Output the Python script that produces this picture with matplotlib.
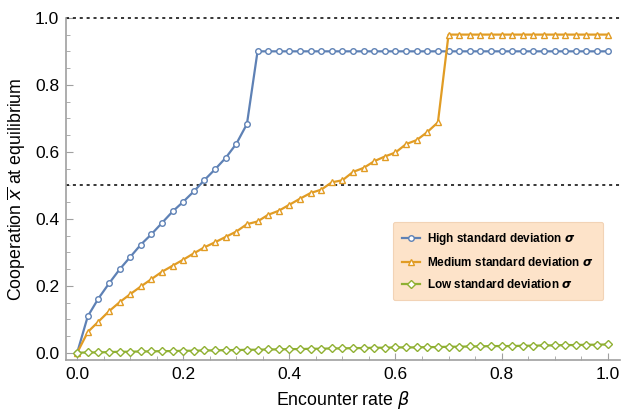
import numpy as np
import matplotlib
matplotlib.use("Agg")
import matplotlib.pyplot as plt
from matplotlib.ticker import MultipleLocator

plt.rcParams['font.family'] = ['Liberation Sans', 'DejaVu Sans']
plt.rcParams['mathtext.fontset'] = 'dejavusans'

# encounter rate beta, step 0.02
beta = np.linspace(0, 1, 51)

high_sd = [0.0, 0.109, 0.162, 0.207, 0.249, 0.286, 0.323, 0.354, 0.388, 0.422,
           0.451, 0.482, 0.516, 0.548, 0.582, 0.624, 0.683] + [0.9] * 34

medium_sd = [0.0, 0.062, 0.093, 0.124, 0.151, 0.175, 0.198, 0.220, 0.242, 0.260,
             0.278, 0.297, 0.315, 0.330, 0.346, 0.362, 0.384, 0.392, 0.412, 0.424,
             0.442, 0.460, 0.477, 0.487, 0.509, 0.515, 0.540, 0.552, 0.572, 0.586,
             0.598, 0.623, 0.635, 0.659, 0.688] + [0.95] * 16

low_sd = [0.0, 0.001, 0.001, 0.002, 0.003, 0.003, 0.004, 0.004, 0.005, 0.005,
          0.006, 0.006, 0.007, 0.007, 0.008, 0.008, 0.009, 0.009, 0.010, 0.010,
          0.011, 0.011, 0.012, 0.012, 0.013, 0.013, 0.014, 0.014, 0.015, 0.015,
          0.016, 0.016, 0.016, 0.017, 0.017, 0.018, 0.018, 0.019, 0.019, 0.020,
          0.020, 0.020, 0.021, 0.021, 0.022, 0.022, 0.023, 0.023, 0.024, 0.024, 0.025]

labels = [r'High standard deviation $\mathbfit{\sigma}$',
          r'Medium standard deviation $\mathbfit{\sigma}$',
          r'Low standard deviation $\mathbfit{\sigma}$']
colors = ['#5E81B5', '#E19C24', '#8FB032']
markers = ['o', '^', 'D']
msizes = [4, 4.6, 3.6]

fig = plt.figure(figsize=(6.23, 4.15), dpi=100)
ax = fig.add_axes([0.106, 0.133, 0.889, 0.824])

for ys, lab, c, m, ms in zip([high_sd, medium_sd, low_sd], labels, colors, markers, msizes):
    ax.plot(beta, ys, color=c, lw=1.6, marker=m, markersize=ms, markerfacecolor='white',
            markeredgecolor=c, markeredgewidth=1.0, label=lab, clip_on=False, zorder=3)

# reference levels
for lvl in [0.5, 1.0]:
    ax.axhline(lvl, color='black', lw=1.1, ls=(0, (2, 2.5)), clip_on=False, zorder=2)

ax.set_xlim(-0.021, 1.023)
ax.set_ylim(-0.021, 1.0)
ax.xaxis.set_major_locator(MultipleLocator(0.2))
ax.xaxis.set_minor_locator(MultipleLocator(0.05))
ax.yaxis.set_major_locator(MultipleLocator(0.2))
ax.yaxis.set_minor_locator(MultipleLocator(0.05))
ax.xaxis.set_major_formatter(lambda v, p: f'{v:.1f}')
ax.yaxis.set_major_formatter(lambda v, p: f'{v:.1f}')

for s in ['top', 'right']:
    ax.spines[s].set_visible(False)
for s in ['left', 'bottom']:
    ax.spines[s].set_color('#a0a0a0')
    ax.spines[s].set_linewidth(1.2)
ax.tick_params(which='both', direction='in', color='#a0a0a0', labelsize=12.5, pad=5)
ax.tick_params(which='major', length=5)
ax.tick_params(which='minor', length=3)

ax.set_xlabel(r'Encounter rate $\beta$', fontsize=12.8, labelpad=5)
ax.set_ylabel(r'Cooperation $\overline{x}$ at equilibrium', fontsize=12.8, labelpad=5)

leg = ax.legend(loc='upper left', bbox_to_anchor=(0.59, 0.404), frameon=True,
                fancybox=True, facecolor='#FDE3C9', edgecolor='#F2D3B6',
                framealpha=1, handlelength=1.5, handletextpad=0.6,
                labelspacing=0.75, borderpad=0.8, borderaxespad=0,
                prop={'weight': 'bold', 'size': 8.5})
leg.get_frame().set_linewidth(0.8)

fig.savefig('out.png', dpi=100)
